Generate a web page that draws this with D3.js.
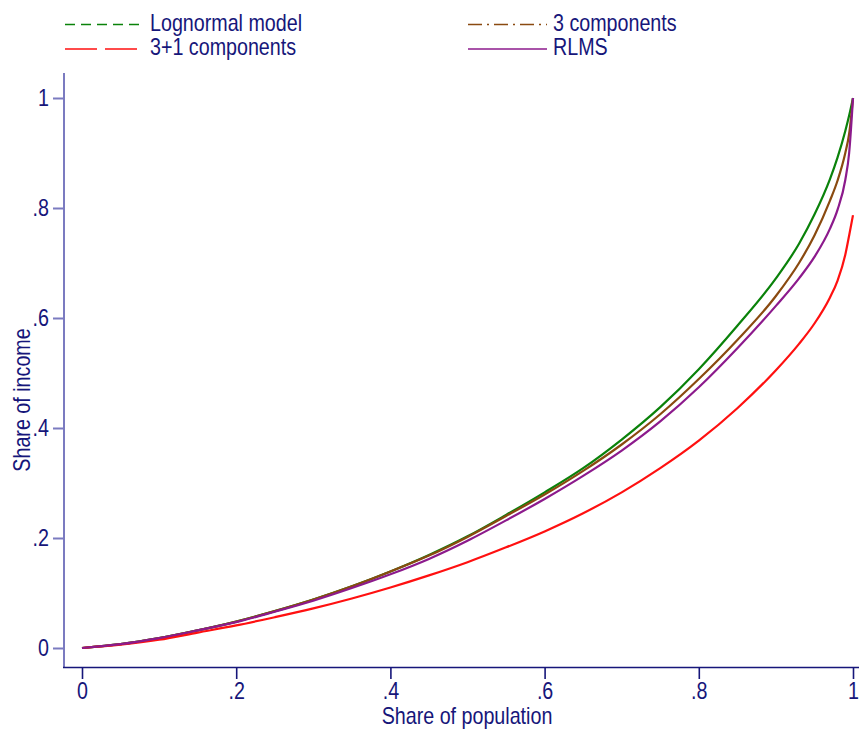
<!DOCTYPE html>
<html>
<head>
<meta charset="utf-8">
<script src="https://cdn.jsdelivr.net/npm/d3@7"></script>
<style>
  body { margin: 0; background: #fff; }
  svg text { font-family: 'Liberation Sans', Arial, sans-serif; font-size: 24px; fill: #16167a; }
</style>
</head>
<body>
<svg id="chart" width="859" height="729"></svg>
<script>
// share of population (x)
const population = [0, .05, .1, .15, .2, .25, .3, .35, .4, .45, .5, .55, .6, .65, .7, .75, .8, .85, .9, .93, .95, .97, .98, .99, .995, 1];

// share of income
const lognormal = [0, .007, .018, .032, .048, .067, .088, .112, .139, .169, .203, .242, .283, .327, .379, .438, .507, .586, .672, .735, .788, .852, .892, .940, .968, 1];
const threeComp = [0, .007, .018, .032, .048, .067, .088, .112, .139, .168, .202, .240, .279, .322, .370, .425, .489, .560, .640, .700, .750, .813, .850, .900, .935, 1];
const threePlusOne = [0, .006, .015, .028, .041, .056, .072, .090, .110, .132, .156, .183, .212, .245, .283, .327, .377, .436, .505, .553, .590, .637, .668, .715, .750, .787];
const rlms = [0, .007, .018, .032, .047, .066, .086, .109, .134, .162, .195, .232, .271, .313, .359, .412, .474, .545, .622, .672, .711, .762, .797, .851, .900, 1];

const tickValues = [0, .2, .4, .6, .8, 1];

const series = [
  { name: 'Lognormal model', values: lognormal, color: '#0a820a', dash: '10,6' },
  { name: '3 components', values: threeComp, color: '#8a4a10', dash: '14,5,2,5' },
  { name: '3+1 components', values: threePlusOne, color: '#ff1010', dash: '32,8' },
  { name: 'RLMS', values: rlms, color: '#8c1a8c', dash: null }
];

const navy = '#16167a';
const svg = d3.select('#chart');

const xScale = d3.scaleLinear().domain([0, 1]).range([82, 853]);
const yScale = d3.scaleLinear().domain([0, 1]).range([648, 98]);

const fmt = (d) => (d === 0 ? '0' : d === 1 ? '1' : d3.format('.1f')(d).replace(/^0/, ''));

// axis lines (drawn by hand so they extend past the tick range)
svg.append('line')
  .attr('x1', 64).attr('x2', 64)
  .attr('y1', 73).attr('y2', 667)
  .attr('stroke', '#7b7bc0').attr('stroke-width', 2);

svg.append('line')
  .attr('x1', 63).attr('x2', 859)
  .attr('y1', 667.5).attr('y2', 667.5)
  .attr('stroke', navy).attr('stroke-width', 1.6);

// y axis ticks + labels
const yAxis = svg.append('g')
  .attr('transform', 'translate(64,0)')
  .call(d3.axisLeft(yScale).tickValues(tickValues).tickFormat(fmt).tickSize(11).tickPadding(4));
yAxis.select('.domain').remove();
yAxis.selectAll('line').attr('stroke', '#7b7bc0').attr('stroke-width', 2);
yAxis.selectAll('text').attr('fill', navy).style('font-size', '24px');

// x axis ticks + labels
const xAxis = svg.append('g')
  .attr('transform', 'translate(0,667)')
  .call(d3.axisBottom(xScale).tickValues(tickValues).tickFormat(fmt).tickSize(12).tickPadding(3));
xAxis.select('.domain').remove();
xAxis.selectAll('line').attr('stroke', navy).attr('stroke-width', 1.6);
xAxis.selectAll('text').attr('fill', navy).style('font-size', '24px');

// axis titles
svg.append('text')
  .attr('x', 467).attr('y', 724)
  .attr('text-anchor', 'middle')
  .text('Share of population');

svg.append('text')
  .attr('transform', 'translate(30,400) rotate(-90)')
  .attr('text-anchor', 'middle')
  .text('Share of income');

// curves
const line = d3.line()
  .x((d) => xScale(d[0]))
  .y((d) => yScale(d[1]))
  .curve(d3.curveMonotoneX);

svg.append('g')
  .selectAll('path')
  .data(series)
  .enter()
  .append('path')
  .attr('d', (s) => line(population.map((p, i) => [p, s.values[i]])))
  .attr('fill', 'none')
  .attr('stroke', (s) => s.color)
  .attr('stroke-width', 2.2);

// legend, two columns by two rows
const legend = svg.append('g').attr('class', 'legend');
const cols = [65, 468];
const rows = [24.5, 49];

const items = legend.selectAll('g')
  .data(series)
  .enter()
  .append('g')
  .attr('transform', (d, i) => `translate(${cols[i % 2]},${rows[Math.floor(i / 2)]})`);

items.append('line')
  .attr('x1', 0).attr('x2', 79)
  .attr('y1', 0).attr('y2', 0)
  .attr('stroke', (d) => d.color)
  .attr('stroke-width', 1.6)
  .attr('stroke-dasharray', (d) => d.dash);

items.append('text')
  .attr('x', 85)
  .attr('y', 6)
  .text((d) => d.name);

// the original uses a narrow face; squeeze every label to ~82% width
svg.selectAll('text').each(function () {
  const len = this.getComputedTextLength();
  d3.select(this).attr('textLength', len * 0.82).attr('lengthAdjust', 'spacingAndGlyphs');
});
</script>
</body>
</html>
